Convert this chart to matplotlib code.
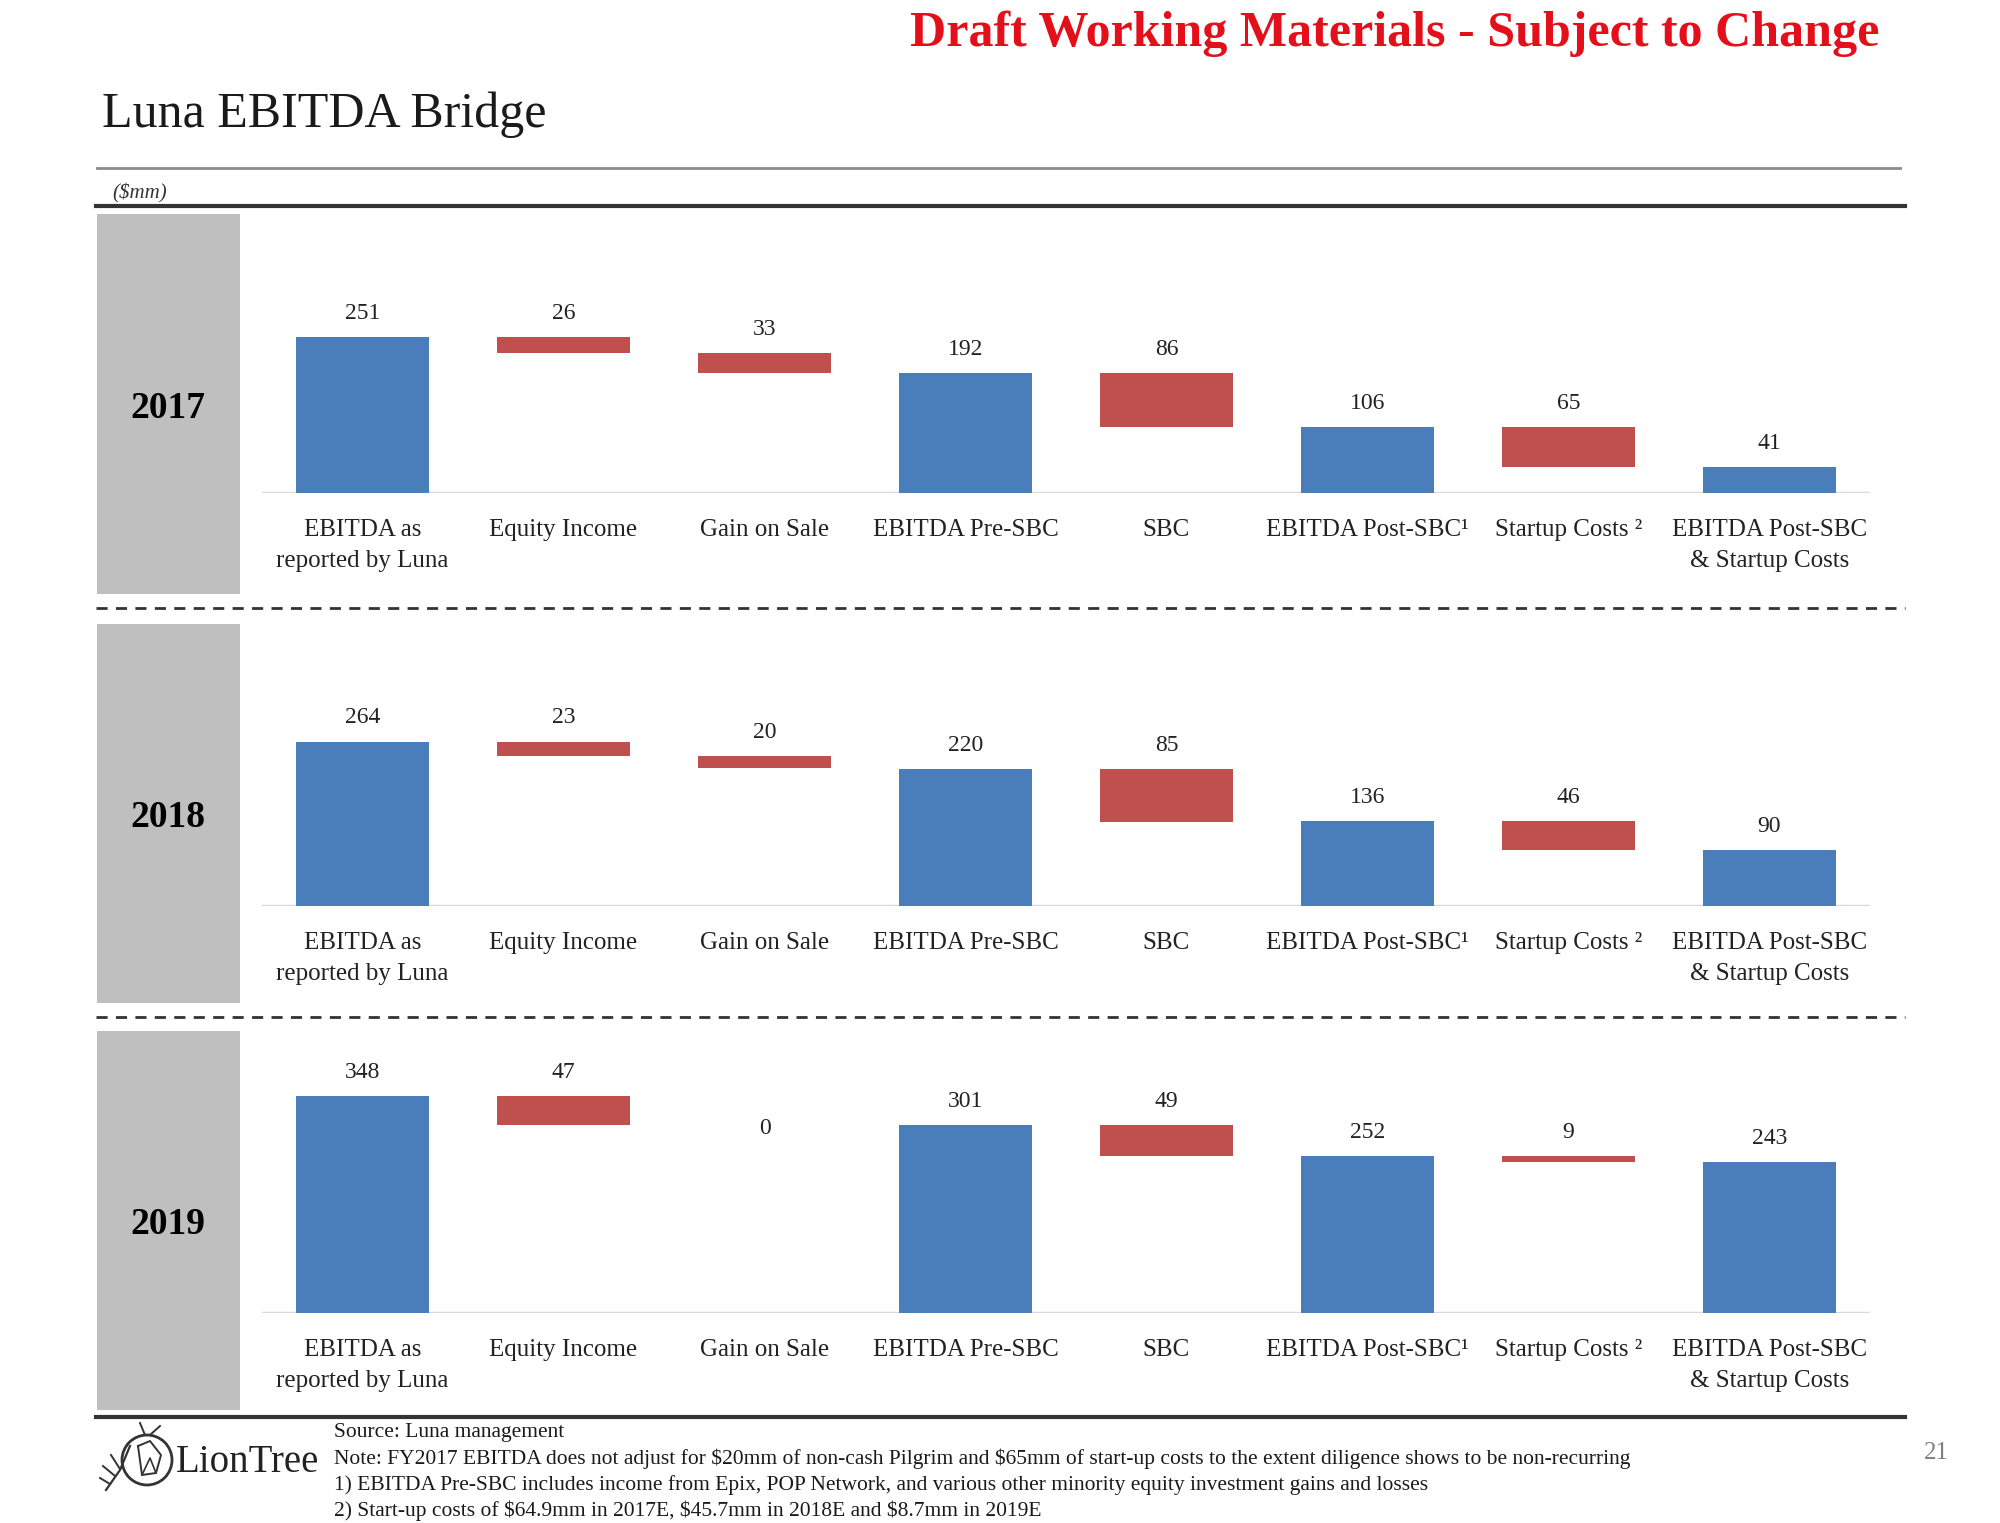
import numpy as np
import matplotlib.pyplot as plt
from matplotlib.patches import Rectangle, Circle

plt.rcParams['font.family'] = ['Liberation Serif', 'DejaVu Serif']
plt.rcParams['text.parse_math'] = False

# Data ($mm)
categories = ['EBITDA as\nreported by Luna', 'Equity Income', 'Gain on Sale',
              'EBITDA Pre-SBC', 'SBC', 'EBITDA Post-SBC\u00b9', 'Startup Costs \u00b2',
              'EBITDA Post-SBC\n& Startup Costs']
kinds = ['total', 'delta', 'delta', 'total', 'delta', 'total', 'delta', 'total']
years = ['2017', '2018', '2019']
values_2017 = [251, 26, 33, 192, 86, 106, 65, 41]
values_2018 = [264, 23, 20, 220, 85, 136, 46, 90]
values_2019 = [348, 47, 0, 301, 49, 252, 9, 243]
all_values = [values_2017, values_2018, values_2019]

BLUE = '#4A7EBB'
RED = '#C0504D'
BOX_GRAY = '#BFBFBF'

W, H = 2000, 1523
fig = plt.figure(figsize=(W / 100, H / 100), dpi=100)

# page overlay in pixel coordinates (y down)
pg = fig.add_axes([0, 0, 1, 1])
pg.set_xlim(0, W)
pg.set_ylim(H, 0)
pg.axis('off')

pg.text(1395, 34, 'Draft Working Materials - Subject to Change', color='#E3101C',
        fontsize=36, fontweight='bold', ha='center', va='center')
pg.text(102, 115, 'Luna EBITDA Bridge', fontsize=36, ha='left', va='center', color='#1a1a1a')
pg.plot([97, 1900], [168, 168], color='#8c8c8c', lw=2)
pg.text(112, 193, '($mm)', fontsize=15, style='italic', ha='left', va='center', color='#333333')
pg.plot([96, 1905], [206, 206], color='#333333', lw=3)

box_tops = [214, 624, 1031]
box_bots = [594, 1003, 1410]
for yr, t, b in zip(years, box_tops, box_bots):
    pg.add_patch(Rectangle((97, t), 143, b - t, color=BOX_GRAY, lw=0))
    pg.text(168, (t + b) / 2 + 4, yr, fontsize=27, fontweight='bold', ha='center', va='center')

for y in [608, 1017]:
    pg.plot([96, 1905], [y, y], color='#333333', lw=2, dashes=(4, 3))
pg.plot([96, 1905], [1417, 1417], color='#333333', lw=3)

# footer
notes = ['Source: Luna management',
         'Note: FY2017 EBITDA does not adjust for $20mm of non-cash Pilgrim and $65mm of start-up costs to the extent diligence shows to be non-recurring',
         '1) EBITDA Pre-SBC includes income from Epix, POP Network, and various other minority equity investment gains and losses',
         '2) Start-up costs of $64.9mm in 2017E, $45.7mm in 2018E and $8.7mm in 2019E']
for i, line in enumerate(notes):
    pg.text(334, 1433 + i * 26, line, fontsize=15.5, ha='left', va='center', color='#1a1a1a')
pg.text(1936, 1453, '21', fontsize=18, ha='center', va='center', color='#7f7f7f')

# LionTree logo (rough sketch)
pg.add_patch(Circle((147, 1460), 25, fill=False, ec='#333333', lw=2))
pg.plot([106, 120, 130], [1490, 1470, 1446], color='#333333', lw=1.6)
for (x0, y0, x1, y1) in [(110, 1484, 100, 1478), (115, 1476, 103, 1466), (120, 1469, 111, 1455),
                         (145, 1435, 140, 1423), (150, 1435, 160, 1426)]:
    pg.plot([x0, x1], [y0, y1], color='#333333', lw=1.4)
pg.plot([138, 150, 161, 156, 142, 138], [1446, 1441, 1455, 1473, 1475, 1446], color='#333333', lw=1.4)
pg.plot([142, 150, 156], [1475, 1458, 1473], color='#333333', lw=1.2)
pg.text(176, 1462, 'LionTree', fontsize=28, ha='left', va='center', color='#222222')

# waterfall panels
baselines = [493, 906, 1313]
px_per_unit = 0.623
ymax = 420
x_left, x_right = 262, 1870
for vals, base in zip(all_values, baselines):
    h_px = ymax * px_per_unit
    ax = fig.add_axes([x_left / W, 1 - base / H, (x_right - x_left) / W, h_px / H])
    ax.patch.set_alpha(0)
    x = np.arange(len(vals))
    bottoms, heights, colors = [], [], []
    level = 0
    for k, v in zip(kinds, vals):
        if k == 'total':
            bottoms.append(0)
            heights.append(v)
            colors.append(BLUE)
            level = v
        else:
            bottoms.append(level - v)
            heights.append(v)
            colors.append(RED)
            level = level - v
    ax.bar(x, heights, bottom=bottoms, width=0.66, color=colors, zorder=2)
    ax.axhline(0, color='#D9D9D9', lw=2.5, zorder=1)
    for xi, b, h in zip(x, bottoms, heights):
        if h == 0:
            ax.annotate(f'{h}', (xi, b + h), xytext=(0, -2), textcoords='offset points',
                        ha='center', va='center', fontsize=17, color='#222222')
        else:
            ax.annotate(f'{h}', (xi, b + h), xytext=(0, 13), textcoords='offset points',
                        ha='center', va='baseline', fontsize=17, color='#222222')
    ax.set_xlim(-0.5, len(vals) - 0.5)
    ax.set_ylim(0, ymax)
    ax.set_xticks(x)
    ax.set_xticklabels(categories, fontsize=18, linespacing=1.5, color='#222222')
    ax.tick_params(axis='x', length=0, pad=19)
    ax.set_yticks([])
    for s in ax.spines.values():
        s.set_visible(False)

fig.savefig('out.png', dpi=100)
